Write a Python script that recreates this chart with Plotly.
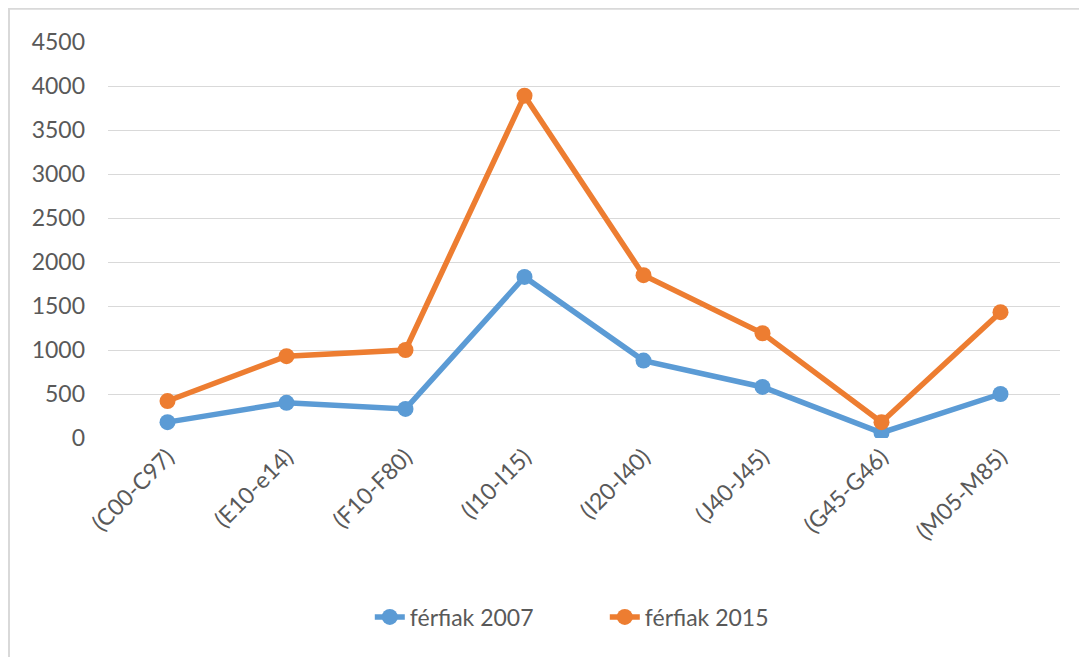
import plotly.graph_objects as go

categories = ["(C00-C97)", "(E10-e14)", "(F10-F80)", "(I10-I15)", "(I20-I40)", "(J40-J45)", "(G45-G46)", "(M05-M85)"]
ferfiak_2007 = [180, 400, 330, 1830, 880, 580, 60, 500]
ferfiak_2015 = [420, 930, 1000, 3890, 1850, 1190, 180, 1430]
y_ticks = [0, 500, 1000, 1500, 2000, 2500, 3000, 3500, 4000, 4500]

BLUE = "#5B9BD5"
ORANGE = "#ED7D31"
TEXT = "#595959"
FONT = "Lato, 'Open Sans', sans-serif"

fig = go.Figure()
fig.add_trace(go.Scatter(x=categories, y=ferfiak_2007, name="férfiak 2007", mode="lines+markers",
                         line=dict(color=BLUE, width=5.5), marker=dict(color=BLUE, size=16)))
fig.add_trace(go.Scatter(x=categories, y=ferfiak_2015, name="férfiak 2015", mode="lines+markers",
                         line=dict(color=ORANGE, width=5.5), marker=dict(color=ORANGE, size=16)))

fig.update_layout(
    width=1079, height=649,
    margin=dict(l=100, r=27, t=34, b=219),
    paper_bgcolor="white", plot_bgcolor="white",
    font=dict(family=FONT, size=23, color=TEXT),
    showlegend=True,
    legend=dict(orientation="h", x=0.275, xanchor="left", y=-0.452, yanchor="middle",
                font=dict(size=23, color=TEXT), traceorder="normal",
                entrywidth=190, entrywidthmode="pixels"),
    xaxis=dict(type="category", tickangle=-45, showgrid=False, showline=False, zeroline=False,
               ticks="", range=[-0.5, 7.5], tickfont=dict(size=23, color=TEXT)),
    yaxis=dict(range=[0, 4500], tickvals=y_ticks, showgrid=True, gridcolor="#D9D9D9", gridwidth=1.3,
               zeroline=False, showline=False, ticks="", ticklabelstandoff=22,
               tickfont=dict(size=23, color=TEXT)),
    shapes=[dict(type="rect", xref="paper", yref="paper", x0=-0.104, x1=1.2, y0=-0.8, y1=1.084,
                 line=dict(color="#D9D9D9", width=2), fillcolor="rgba(0,0,0,0)", layer="below")],
)

fig.write_html("out.html")
